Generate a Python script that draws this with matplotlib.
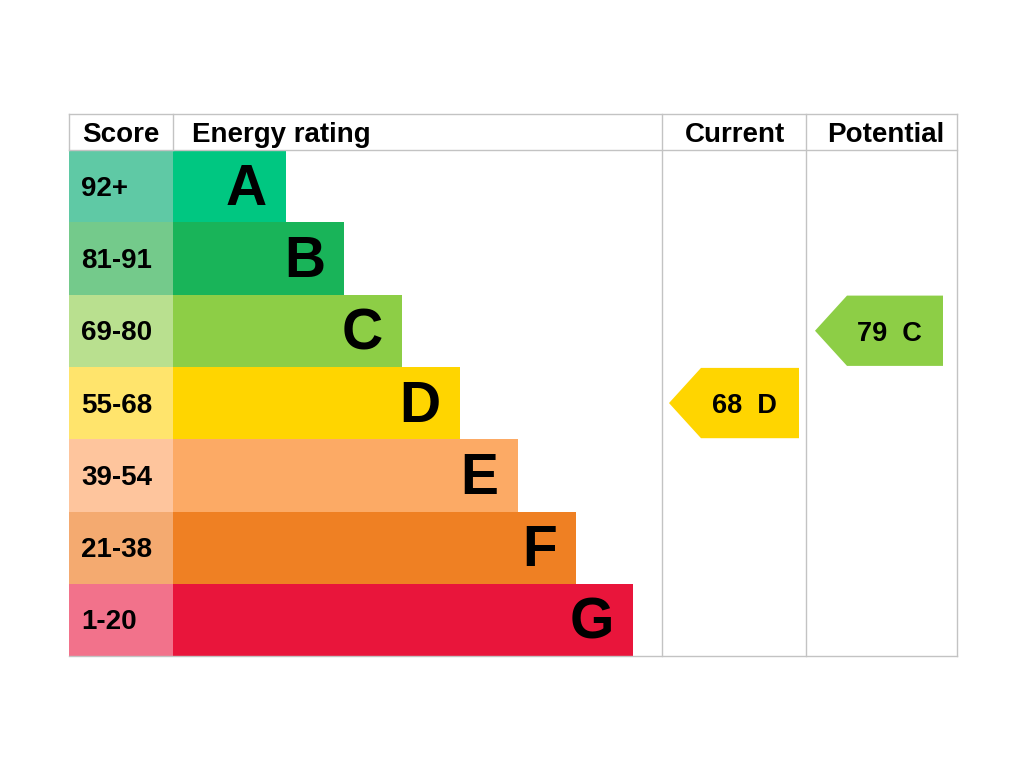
import matplotlib
matplotlib.use('Agg')
import matplotlib.pyplot as plt
from matplotlib.patches import Rectangle, Polygon

# EPC bands
bands = ['A', 'B', 'C', 'D', 'E', 'F', 'G']
score_ranges = ['92+', '81-91', '69-80', '55-68', '39-54', '21-38', '1-20']
band_min = [92, 81, 69, 55, 39, 21, 1]
bar_colors = ['#00c781', '#19b459', '#8dce46', '#ffd500', '#fcaa65', '#ef8023', '#e9153b']
score_colors = ['#5fc9a5', '#74ca8b', '#b9e08f', '#ffe46c', '#fec59d', '#f4aa70', '#f2728b']

current_score = 68
potential_score = 79
headers = ['Score', 'Energy rating', 'Current', 'Potential']

plt.rcParams['font.family'] = ['Liberation Sans', 'DejaVu Sans']

fig = plt.figure(figsize=(10.24, 7.68), dpi=100)
ax = fig.add_axes([0, 0, 1, 1])
ax.set_xlim(0, 1024)
ax.set_ylim(768, 0)
ax.axis('off')

left, score_w, bar_x = 69, 104, 173
cur_x, pot_x, right = 662, 806, 957
top, head_h, row_h = 114, 36, 72.3
grid = '#c3c3c3'


def band_of(score):
    for i, m in enumerate(band_min):
        if score >= m:
            return i
    return len(bands) - 1


for i, b in enumerate(bands):
    y = top + head_h + i * row_h
    mid = y + row_h / 2
    ax.add_patch(Rectangle((left, y), score_w, row_h, color=score_colors[i], lw=0))
    bar_end = 286 + 57.9 * i
    ax.add_patch(Rectangle((bar_x, y), bar_end - bar_x, row_h, color=bar_colors[i], lw=0))
    ax.text(81, mid + 9.5, score_ranges[i], fontsize=20, fontweight='bold',
            ha='left', va='baseline')
    ax.text(bar_end - 19, mid + 18.5, b, fontsize=41, fontweight='bold',
            ha='right', va='baseline')

bottom = top + head_h + len(bands) * row_h

# grid lines
ax.plot([left, right], [top, top], color=grid, lw=1)
ax.plot([left, right], [top + head_h, top + head_h], color=grid, lw=1)
ax.plot([left, right], [bottom, bottom], color=grid, lw=1)
ax.plot([left, left], [top, top + head_h], color=grid, lw=1)
ax.plot([bar_x, bar_x], [top, top + head_h], color=grid, lw=1)
for x in (cur_x, pot_x, right):
    ax.plot([x, x], [top, bottom], color=grid, lw=1)

hy = 142.5
ax.text(121, hy, headers[0], fontsize=20, fontweight='bold', ha='center', va='baseline')
ax.text(192, hy, headers[1], fontsize=20, fontweight='bold', ha='left', va='baseline')
ax.text(735, hy, headers[2], fontsize=20, fontweight='bold', ha='center', va='baseline')
ax.text(886, hy, headers[3], fontsize=20, fontweight='bold', ha='center', va='baseline')


def arrow(x0, x1, score):
    i = band_of(score)
    y0 = top + head_h + i * row_h + 1
    y1 = y0 + row_h - 2
    tip = x0
    shoulder = x0 + 32
    pts = [(tip, (y0 + y1) / 2), (shoulder, y0), (x1, y0), (x1, y1), (shoulder, y1)]
    ax.add_patch(Polygon(pts, closed=True, color=bar_colors[i], lw=0))
    ax.text((shoulder + x1) / 2 - 6, (y0 + y1) / 2 + 10, f'{score}  {bands[i]}',
            fontsize=19.5, fontweight='bold', ha='center', va='baseline')


arrow(669, 799, current_score)
arrow(815, 943, potential_score)

fig.savefig('out.png', dpi=100)
